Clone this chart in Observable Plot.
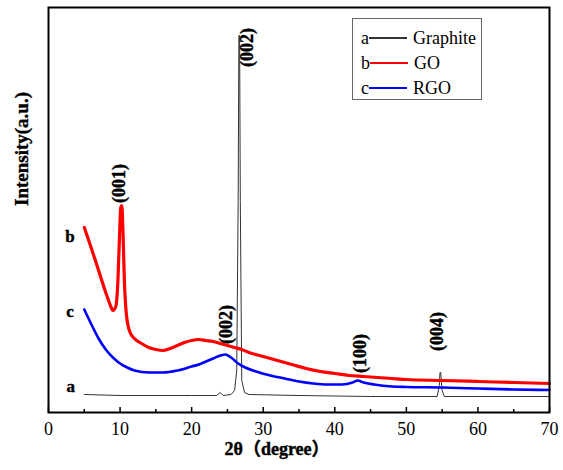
<!DOCTYPE html>
<html>
<head>
<meta charset="utf-8">
<script src="https://cdn.jsdelivr.net/npm/d3@7"></script>
<script src="https://cdn.jsdelivr.net/npm/@observablehq/plot@0.6"></script>
<style>
  body { margin: 0; background: #fff; }
  #wrap { position: relative; width: 563px; height: 470px; }
  #legend { position: absolute; left: 352px; top: 18px; width: 128px; height: 80px;
    border: 1px solid #666; background: #fff; font-family: "Liberation Serif", serif; font-size: 18px; color: #000; }
  .row { position: absolute; left: 8px; height: 22px; line-height: 22px; display: flex; align-items: center; }
  .row .sw { display: inline-block; width: 38px; height: 1.4px; margin: 0 6px 0 0; }
</style>
</head>
<body>
<div id="wrap"></div>
<script>
// Series (2θ in degrees, intensity in arbitrary units)
const graphiteX = [5, 10, 15, 20, 23.5, 24.0, 24.4, 25.5, 26.0, 26.3, 26.5, 26.6, 26.7, 26.8, 27.0, 27.4, 28, 35, 45, 54.3, 54.6, 54.7, 54.8, 55.0, 55.3, 60, 70];
const graphiteY = [18, 17, 17, 17, 17, 20, 17, 18, 22, 42, 212, 377, 377, 212, 32, 20, 18, 17, 16, 16, 27, 40, 40, 22, 16, 16, 16];

const goX = [5.0, 6, 7, 8, 8.6, 9.0, 9.4, 9.7, 9.9, 10.1, 10.25, 10.4, 10.6, 10.9, 11.4, 12, 13, 14, 15, 16, 17, 18, 19, 20, 21, 22, 23, 24, 25, 26, 27, 28, 30, 32, 34, 36, 38, 40, 42, 44, 46, 48, 50, 55, 60, 65, 70];
const goY = [185, 164, 142, 120, 108, 102, 106, 132, 172, 205, 207, 182, 132, 97, 80, 74, 69, 65, 63, 62, 64, 67, 70, 72, 73, 72, 71, 69, 67, 65, 63, 60, 56, 52, 48, 44, 41, 39, 37, 36, 35, 34, 33, 32, 31, 30, 29];

const rgoX = [5.0, 6, 7, 8, 9, 10, 11, 12, 14, 16, 18, 20, 21, 22, 23, 24, 24.7, 25.5, 26.5, 27.5, 29, 31, 33, 35, 37, 39, 41, 42.5, 43.2, 44, 45.5, 48, 50, 55, 60, 65, 70];
const rgoY = [103, 88, 74, 63, 55, 49, 45, 42, 40, 40, 42, 46, 48, 51, 54, 57, 58, 55, 49, 45, 41, 37, 34, 31, 29, 28, 28, 30, 32, 30, 28, 26, 25.5, 25, 24, 23, 22.5];

// Legend / series identity
const seriesLetters = ["a", "b", "c"];
const seriesNames = ["Graphite", "GO", "RGO"];
const seriesColors = ["#333333", "#ff0000", "#0000ff"];

// Curve letters at left of curves
const letterX = [3.1, 3.0, 3.0];
const letterY = [26, 176, 101];

// Peak annotations
const peakLabels = ["(001)", "(002)", "(002)", "(100)", "(004)"];
const peakX = [9.9, 27.7, 24.9, 43.6, 54.35];
const peakY = [229, 365, 88, 59, 81];

const majorTicks = [0, 10, 20, 30, 40, 50, 60, 70];
const minorTicks = [5, 15, 25, 35, 45, 55, 65];

const toRows = (xs, ys) => xs.map((x, i) => ({x, y: ys[i]}));
const graphite = toRows(graphiteX, graphiteY);
const go = toRows(goX, goY);
const rgo = toRows(rgoX, rgoY);
const letters = seriesLetters.map((t, i) => ({t, x: letterX[i], y: letterY[i]}));
const peaks = peakLabels.map((t, i) => ({t, x: peakX[i], y: peakY[i]}));

const serif = "'Liberation Serif', 'Times New Roman', serif";
const serifCJK = "'Liberation Serif', 'Noto Sans CJK SC', serif";
const boldText = {fill: "#000", stroke: "#000", strokeWidth: 0.4, fontWeight: "bold", fontFamily: serif};

const chart = Plot.plot({
  width: 563,
  height: 470,
  marginLeft: 48,
  marginRight: 14,
  marginTop: 7,
  marginBottom: 58,
  style: {fontFamily: serif, color: "#000", background: "#fff"},
  x: {domain: [0, 70]},
  y: {domain: [0, 405], axis: null},
  marks: [
    Plot.line(graphite, {x: "x", y: "y", stroke: seriesColors[0], strokeWidth: 1}),
    Plot.line(go, {x: "x", y: "y", stroke: seriesColors[1], strokeWidth: 3.2, curve: "monotone-x"}),
    Plot.line(rgo, {x: "x", y: "y", stroke: seriesColors[2], strokeWidth: 2.6, curve: "monotone-x"}),
    Plot.frame({stroke: "#000", strokeWidth: 2}),
    Plot.axisX({ticks: majorTicks, tickSize: -5, tickFormat: () => "", label: null, strokeWidth: 1.5}),
    Plot.axisX({ticks: minorTicks, tickSize: -3, tickFormat: () => "", label: null, strokeWidth: 1.5}),
    Plot.axisX({ticks: majorTicks, tickSize: 0, tickPadding: 10, fontSize: 18, label: null}),
    Plot.text(["2θ（degree）"], {frameAnchor: "bottom", dx: -22, dy: 42, fontSize: 18, ...boldText, fontFamily: serifCJK}),
    Plot.text(["Intensity(a.u.)"], {frameAnchor: "left", rotate: -90, dx: -27, dy: -4, fontSize: 19, ...boldText}),
    Plot.text(letters, {x: "x", y: "y", text: "t", fontSize: 17, ...boldText}),
    Plot.text(peaks, {x: "x", y: "y", text: "t", rotate: -90, fontSize: 18, ...boldText})
  ]
});

const wrap = document.getElementById("wrap");
wrap.appendChild(chart);

const legend = document.createElement("div");
legend.id = "legend";
seriesNames.forEach((name, i) => {
  const row = document.createElement("div");
  row.className = "row";
  row.style.top = (8 + i * 25) + "px";
  const l = document.createElement("span");
  l.textContent = seriesLetters[i];
  const sw = document.createElement("span");
  sw.className = "sw";
  sw.style.background = seriesColors[i];
  const t = document.createElement("span");
  t.textContent = name;
  row.appendChild(l); row.appendChild(sw); row.appendChild(t);
  legend.appendChild(row);
});
wrap.appendChild(legend);
</script>
</body>
</html>
